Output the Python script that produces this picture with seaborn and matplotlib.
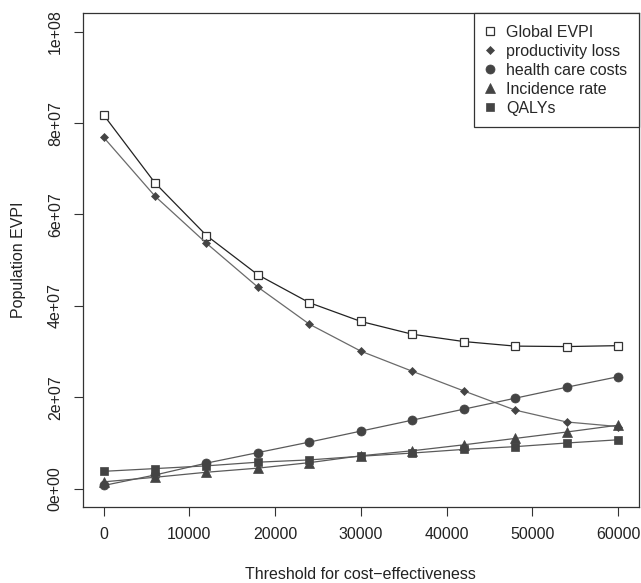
import matplotlib
matplotlib.use('Agg')
import matplotlib.pyplot as plt
from matplotlib.lines import Line2D
import seaborn as sns
import pandas as pd

# threshold values on the x axis
thresholds = [0, 6000, 12000, 18000, 24000, 30000, 36000, 42000, 48000, 54000, 60000]

# population EVPI per series
global_evpi = [81.8e6, 66.9e6, 55.4e6, 46.8e6, 40.7e6, 36.6e6, 33.8e6, 32.2e6, 31.2e6, 31.1e6, 31.3e6]
productivity_loss = [76.9e6, 64.0e6, 53.7e6, 44.1e6, 36.0e6, 30.1e6, 25.7e6, 21.4e6, 17.2e6, 14.6e6, 13.6e6]
health_care_costs = [0.7e6, 3.0e6, 5.6e6, 7.9e6, 10.2e6, 12.6e6, 15.0e6, 17.4e6, 19.8e6, 22.2e6, 24.5e6]
incidence_rate = [1.5e6, 2.5e6, 3.6e6, 4.5e6, 5.7e6, 7.2e6, 8.3e6, 9.6e6, 11.0e6, 12.4e6, 13.9e6]
qalys = [3.8e6, 4.4e6, 5.0e6, 5.8e6, 6.3e6, 7.1e6, 7.8e6, 8.6e6, 9.2e6, 10.0e6, 10.7e6]

series_names = ['Global EVPI', 'productivity loss', 'health care costs', 'Incidence rate', 'QALYs']
y_ticks = [0, 2e7, 4e7, 6e7, 8e7, 1e8]
y_tick_labels = ['0e+00', '2e+07', '4e+07', '6e+07', '8e+07', '1e+08']
x_ticks = [0, 10000, 20000, 30000, 40000, 50000, 60000]

sns.set_style('white')
plt.rcParams['font.family'] = ['Liberation Sans', 'DejaVu Sans']
plt.rcParams['font.size'] = 11.5

df = pd.DataFrame({'threshold': thresholds,
                   'Global EVPI': global_evpi,
                   'productivity loss': productivity_loss,
                   'health care costs': health_care_costs,
                   'Incidence rate': incidence_rate,
                   'QALYs': qalys})

# marker, size, line colour, marker colour, open?
styles = {
    'Global EVPI': ('s', 5.5, '#222222', '#333333', True),
    'productivity loss': ('D', 3.8, '#6a6a6a', '#444444', False),
    'health care costs': ('o', 6.5, '#5a5a5a', '#444444', False),
    'Incidence rate': ('^', 6.5, '#5a5a5a', '#444444', False),
    'QALYs': ('s', 5.5, '#5a5a5a', '#444444', False),
}

fig = plt.figure(figsize=(6.41, 5.83), dpi=100)
ax = fig.add_axes([0.1295, 0.1304, 0.8668, 0.8466])

for name in series_names:
    mk, ms, lc, mc, hollow = styles[name]
    sns.lineplot(data=df, x='threshold', y=name, ax=ax, color=lc, linewidth=0.9,
                 marker=mk, markersize=ms,
                 markerfacecolor='white' if hollow else mc,
                 markeredgecolor=mc, markeredgewidth=0.9 if hollow else 0.5)

ax.set_xlim(-2400, 62400)
ax.set_ylim(-4e6, 1.04e8)
ax.set_xticks(x_ticks)
ax.set_xticklabels([str(v) for v in x_ticks])
ax.set_yticks(y_ticks)
ax.set_yticklabels(y_tick_labels, rotation=90, va='center')
ax.tick_params(axis='both', direction='out', length=6.5, width=0.8, color='#333333',
               labelsize=11.5, labelcolor='#222222', bottom=True, left=True)
ax.tick_params(axis='x', pad=8)
ax.tick_params(axis='y', pad=8)
for sp in ax.spines.values():
    sp.set_visible(True)
    sp.set_color('#333333')
    sp.set_linewidth(0.9)

ax.set_xlabel('Threshold for cost\u2212effectiveness', fontsize=11.5, color='#222222')
ax.set_ylabel('Population EVPI', fontsize=11.5, color='#222222')
ax.xaxis.set_label_coords(0.5, -0.1378)
ax.yaxis.set_label_coords(-0.1165, 0.5)
ax.xaxis.label.set_va('center')
ax.yaxis.label.set_va('center')

handles = []
for name in series_names:
    mk, ms, lc, mc, hollow = styles[name]
    handles.append(Line2D([], [], linestyle='none', marker=mk, markersize=ms,
                          markerfacecolor='white' if hollow else mc,
                          markeredgecolor=mc, markeredgewidth=0.9 if hollow else 0.5))
leg = ax.legend(handles, series_names, loc='upper right', borderaxespad=0,
                fancybox=False, framealpha=1, edgecolor='#333333', fontsize=11.5,
                handlelength=0.6, handletextpad=0.7, labelspacing=0.25,
                borderpad=0.7)
leg.get_frame().set_linewidth(0.9)

fig.savefig('out.png', dpi=100)
